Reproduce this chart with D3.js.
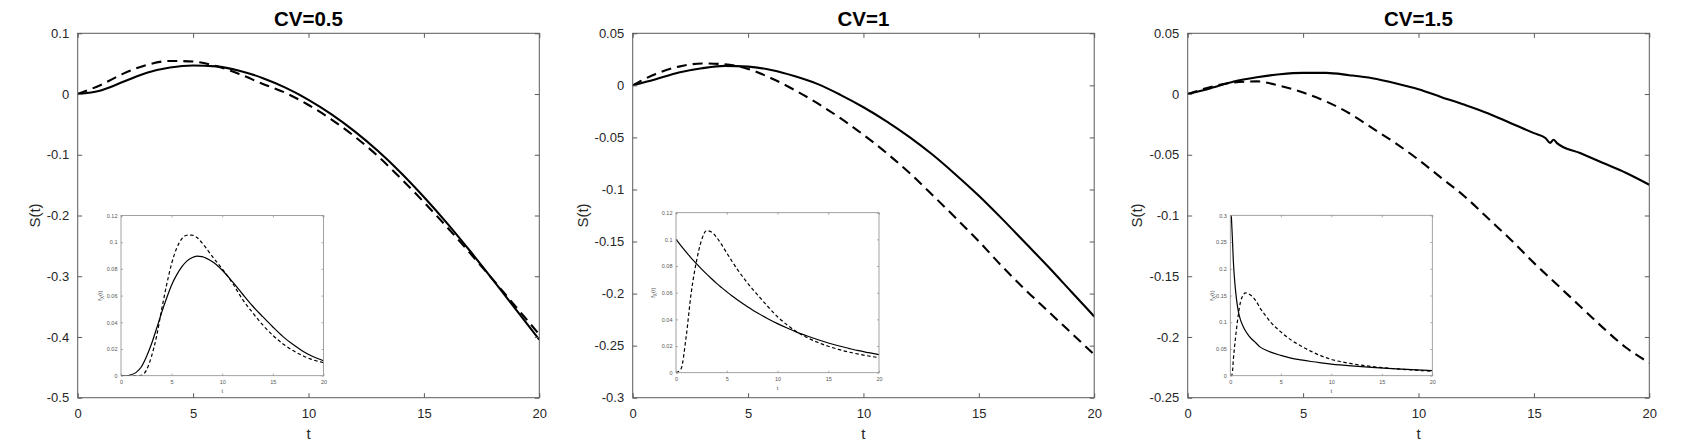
<!DOCTYPE html>
<html>
<head>
<meta charset="utf-8">
<script src="https://cdn.jsdelivr.net/npm/d3@7"></script>
<style>
  body { margin: 0; background: #fff; }
  svg { display: block; font-family: "Liberation Sans", Arial, Helvetica, sans-serif; }
</style>
</head>
<body>
<svg id="chart" width="1707" height="448"></svg>
<script>
// ---- data ----
var panelTitles = ["CV=0.5", "CV=1", "CV=1.5"];

var mainT = [0, 1, 2, 3, 4, 5, 6, 7, 8, 9, 10, 11, 12, 13, 14, 15, 16, 17, 18, 19, 20];
// the CV=1.5 solid curve has a small notch just before t=16
var mainT15 = [0, 1, 2, 3, 4, 5, 6, 7, 8, 9, 10, 11, 12, 13, 14, 15, 15.5, 15.7, 15.85, 16, 17, 18, 19, 20];
var mainXTicks = [0, 5, 10, 15, 20];

// S(t), solid = full model, dashed = approximation
var sSolid05 = [0, 0.006, 0.0205, 0.035, 0.0436, 0.047, 0.0455, 0.0385, 0.0265, 0.0105, -0.0095, -0.0335, -0.0615, -0.0935, -0.1295, -0.1695, -0.2125, -0.2585, -0.3065, -0.3555, -0.4045];
var sDashed05 = [0, 0.015, 0.034, 0.048, 0.0545, 0.0535, 0.046, 0.033, 0.017, 0.002, -0.018, -0.042, -0.07, -0.102, -0.139, -0.178, -0.219, -0.262, -0.306, -0.351, -0.396];
var sSolid1 = [0, 0.0059, 0.0123, 0.0164, 0.0187, 0.018, 0.0148, 0.009, 0.0014, -0.0091, -0.021, -0.0345, -0.0497, -0.0667, -0.0858, -0.106, -0.128, -0.151, -0.174, -0.198, -0.222];
var sDashed1 = [0, 0.011, 0.018, 0.021, 0.0203, 0.0158, 0.0069, -0.0043, -0.0171, -0.0315, -0.0475, -0.065, -0.0842, -0.1055, -0.1274, -0.1498, -0.1737, -0.196, -0.2169, -0.2377, -0.2585];
var sSolid15 = [0, 0.0048, 0.0103, 0.0138, 0.0163, 0.0174, 0.0174, 0.0155, 0.013, 0.0089, 0.004, -0.0026, -0.0089, -0.0158, -0.024, -0.0322, -0.0362, -0.0402, -0.0376, -0.0404, -0.0486, -0.0568, -0.065, -0.0747];
var sDashed15 = [0, 0.0058, 0.0095, 0.0104, 0.0067, 0.0012, -0.0062, -0.0158, -0.0281, -0.0404, -0.0541, -0.0692, -0.0843, -0.1021, -0.1199, -0.139, -0.1568, -0.1747, -0.1925, -0.2089, -0.2212];

var mainYTicks05 = [0.1, 0, -0.1, -0.2, -0.3, -0.4, -0.5];
var mainYTicks1 = [0.05, 0, -0.05, -0.1, -0.15, -0.2, -0.25, -0.3];
var mainYTicks15 = [0.05, 0, -0.05, -0.1, -0.15, -0.2, -0.25];

// inset densities f_X(t)
var insetT = [0, 0.5, 1, 1.5, 2, 2.5, 3, 3.5, 4, 4.5, 5, 5.5, 6, 6.5, 7, 7.5, 8, 9, 10, 11, 12, 13, 14, 15, 16, 17, 18, 19, 20];
var fSolid05 = [0, 0, 0.0007, 0.0025, 0.0065, 0.014, 0.0235, 0.035, 0.047, 0.058, 0.068, 0.0755, 0.0815, 0.0858, 0.0884, 0.0896, 0.0892, 0.0855, 0.079, 0.0705, 0.0612, 0.0522, 0.0442, 0.0365, 0.0293, 0.0233, 0.0182, 0.0142, 0.0112];
var fDashed05 = [0, 0, 0, 0, 0.0003, 0.004, 0.0142, 0.029, 0.049, 0.0678, 0.084, 0.0955, 0.1025, 0.1052, 0.1053, 0.1035, 0.0995, 0.0895, 0.08, 0.0695, 0.0572, 0.0472, 0.038, 0.0302, 0.0238, 0.0188, 0.0148, 0.0118, 0.0098];
var fSolid1 = [0.1, 0.0951, 0.0905, 0.086, 0.0819, 0.0779, 0.0741, 0.0705, 0.067, 0.0638, 0.0607, 0.0577, 0.0549, 0.0522, 0.0497, 0.0472, 0.0449, 0.0407, 0.0368, 0.0333, 0.0301, 0.0273, 0.0247, 0.0223, 0.0202, 0.0183, 0.0165, 0.015, 0.0135];
var fDashed1 = [0, 0.003, 0.027, 0.06, 0.083, 0.099, 0.1065, 0.1055, 0.1015, 0.096, 0.0898, 0.0838, 0.078, 0.0727, 0.0677, 0.063, 0.0587, 0.05, 0.042, 0.0355, 0.0302, 0.026, 0.0226, 0.0198, 0.0175, 0.0155, 0.0139, 0.0125, 0.0113];

var insetT15 = [0, 0.1, 0.2, 0.3, 0.4, 0.6, 0.8, 1, 1.25, 1.5, 1.75, 2, 2.5, 3, 3.5, 4, 5, 6, 7, 8, 9, 10, 12, 14, 16, 18, 20];
var fSolid15 = [null, 0.3, 0.26, 0.215, 0.185, 0.145, 0.12, 0.105, 0.093, 0.084, 0.077, 0.071, 0.062, 0.053, 0.048, 0.044, 0.038, 0.033, 0.0295, 0.0265, 0.024, 0.0218, 0.0183, 0.0155, 0.0132, 0.0112, 0.0095];
var fDashed15 = [0, 0, 0.005, 0.03, 0.05, 0.085, 0.115, 0.137, 0.15, 0.155, 0.154, 0.151, 0.141, 0.125, 0.112, 0.1, 0.082, 0.067, 0.0555, 0.0455, 0.037, 0.0305, 0.0225, 0.0172, 0.0135, 0.0107, 0.0083];

var insetXTicks = [0, 5, 10, 15, 20];
var insetYTicks05 = [0, 0.02, 0.04, 0.06, 0.08, 0.1, 0.12];
var insetYTicks1 = [0, 0.02, 0.04, 0.06, 0.08, 0.1, 0.12];
var insetYTicks15 = [0, 0.05, 0.1, 0.15, 0.2, 0.25, 0.3];

// ---- layout ----
var layout = [
  { main: [77.7, 539.3, 33.3, 397.7], ylab: 34.5, inset: [121, 323.5, 215.5, 375.7], ilab: 100 },
  { main: [632.7, 1094.2, 33.3, 397.7], ylab: 583, inset: [676, 879, 212.7, 372.7], ilab: 653 },
  { main: [1187.7, 1649.3, 33.3, 397.7], ylab: 1137, inset: [1230.3, 1432.3, 215.3, 375.7], ilab: 1212 }
];

var panels = [
  { title: panelTitles[0], s: [sSolid05, sDashed05], st: [mainT, mainT], yt: mainYTicks05, f: [fSolid05, fDashed05], ft: insetT, fyt: insetYTicks05 },
  { title: panelTitles[1], s: [sSolid1, sDashed1], st: [mainT, mainT], yt: mainYTicks1, f: [fSolid1, fDashed1], ft: insetT, fyt: insetYTicks1 },
  { title: panelTitles[2], s: [sSolid15, sDashed15], st: [mainT15, mainT], yt: mainYTicks15, f: [fSolid15, fDashed15], ft: insetT15, fyt: insetYTicks15 }
];

var svg = d3.select("#chart");

function fmt(v) { return String(+v.toFixed(3)); }

// box with inward ticks on all four sides, MATLAB style
function drawBox(g, xs, ys, xTicks, yTicks, o) {
  var x0 = xs.range()[0], x1 = xs.range()[1];
  var yb = ys.range()[0], yt = ys.range()[1];

  function clean(sel) {
    sel.select(".domain").remove();
    sel.selectAll(".tick line").attr("stroke", o.stroke).attr("stroke-width", o.tw);
    sel.selectAll(".tick text").attr("fill", o.text).attr("font-size", o.fs + "px");
  }

  g.append("g").attr("transform", "translate(0," + yb + ")")
    .call(d3.axisBottom(xs).tickValues(xTicks).tickSize(-o.tick).tickSizeOuter(0).tickPadding(o.padX).tickFormat(fmt))
    .call(clean);
  g.append("g").attr("transform", "translate(0," + yt + ")")
    .call(d3.axisTop(xs).tickValues(xTicks).tickSize(-o.tick).tickSizeOuter(0).tickFormat(""))
    .call(clean);
  g.append("g").attr("transform", "translate(" + x0 + ",0)")
    .call(d3.axisLeft(ys).tickValues(yTicks).tickSize(-o.tick).tickSizeOuter(0).tickPadding(o.padY).tickFormat(fmt))
    .call(clean);
  g.append("g").attr("transform", "translate(" + x1 + ",0)")
    .call(d3.axisRight(ys).tickValues(yTicks).tickSize(-o.tick).tickSizeOuter(0).tickFormat(""))
    .call(clean);

  g.append("rect")
    .attr("x", x0).attr("y", yt)
    .attr("width", x1 - x0).attr("height", yb - yt)
    .attr("fill", "none").attr("stroke", o.stroke).attr("stroke-width", o.bw);
}

panels.forEach(function (p, i) {
  var L = layout[i];
  var g = svg.append("g");

  var x = d3.scaleLinear().domain([0, 20]).range([L.main[0], L.main[1]]);
  var y = d3.scaleLinear().domain(d3.extent(p.yt)).range([L.main[3], L.main[2]]);

  g.append("rect")
    .attr("x", L.main[0]).attr("y", L.main[2])
    .attr("width", L.main[1] - L.main[0]).attr("height", L.main[3] - L.main[2])
    .attr("fill", "#fff");

  var clipId = "clip" + i;
  g.append("clipPath").attr("id", clipId).append("rect")
    .attr("x", L.main[0]).attr("y", L.main[2])
    .attr("width", L.main[1] - L.main[0]).attr("height", L.main[3] - L.main[2]);

  function mainLine(ts) {
    return d3.line()
      .x(function (d, k) { return x(ts[k]); })
      .y(function (d) { return y(d); })
      .curve(d3.curveMonotoneX);
  }

  g.append("path").datum(p.s[0])
    .attr("clip-path", "url(#" + clipId + ")")
    .attr("d", mainLine(p.st[0])).attr("fill", "none")
    .attr("stroke", "#000").attr("stroke-width", 2.1);
  g.append("path").datum(p.s[1])
    .attr("clip-path", "url(#" + clipId + ")")
    .attr("d", mainLine(p.st[1])).attr("fill", "none")
    .attr("stroke", "#000").attr("stroke-width", 2.1)
    .attr("stroke-dasharray", "10,6");

  drawBox(g, x, y, mainXTicks, p.yt,
    { tick: 4.5, padX: 11, padY: 8.5, fs: 13, stroke: "#5a5a5a", text: "#262626", tw: 1, bw: 1 });

  // title and labels
  g.append("text")
    .attr("x", (L.main[0] + L.main[1]) / 2).attr("y", 26)
    .attr("text-anchor", "middle")
    .attr("font-size", "20.5px").attr("font-weight", "bold")
    .attr("fill", "#000")
    .text(p.title);
  g.append("text")
    .attr("x", (L.main[0] + L.main[1]) / 2).attr("y", 439)
    .attr("text-anchor", "middle")
    .attr("font-size", "15px").attr("fill", "#262626")
    .text("t");
  g.append("text")
    .attr("transform", "translate(" + L.ylab + "," + ((L.main[2] + L.main[3]) / 2) + ") rotate(-90)")
    .attr("text-anchor", "middle").attr("dy", "0.35em")
    .attr("font-size", "15px").attr("fill", "#262626")
    .text("S(t)");

  // ---- inset ----
  var gi = svg.append("g");
  var xi = d3.scaleLinear().domain([0, 20]).range([L.inset[0], L.inset[1]]);
  var yi = d3.scaleLinear().domain(d3.extent(p.fyt)).range([L.inset[3], L.inset[2]]);

  gi.append("rect")
    .attr("x", L.inset[0]).attr("y", L.inset[2])
    .attr("width", L.inset[1] - L.inset[0]).attr("height", L.inset[3] - L.inset[2])
    .attr("fill", "#fff");

  var iclip = "iclip" + i;
  gi.append("clipPath").attr("id", iclip).append("rect")
    .attr("x", L.inset[0]).attr("y", L.inset[2])
    .attr("width", L.inset[1] - L.inset[0]).attr("height", L.inset[3] - L.inset[2]);

  var iline = d3.line()
    .defined(function (d) { return d != null; })
    .x(function (d, k) { return xi(p.ft[k]); })
    .y(function (d) { return yi(d); })
    .curve(d3.curveMonotoneX);

  gi.append("path").datum(p.f[0])
    .attr("clip-path", "url(#" + iclip + ")")
    .attr("d", iline).attr("fill", "none")
    .attr("stroke", "#000").attr("stroke-width", 1.2);
  gi.append("path").datum(p.f[1])
    .attr("clip-path", "url(#" + iclip + ")")
    .attr("d", iline).attr("fill", "none")
    .attr("stroke", "#000").attr("stroke-width", 1.2)
    .attr("stroke-dasharray", "3.5,2.5");

  drawBox(gi, xi, yi, insetXTicks, p.fyt,
    { tick: 2, padX: 4, padY: 3.5, fs: 5.5, stroke: "#8a8a8a", text: "#555", tw: 0.7, bw: 0.8 });

  gi.append("text")
    .attr("x", (L.inset[0] + L.inset[1]) / 2).attr("y", L.inset[3] + 17)
    .attr("text-anchor", "middle")
    .attr("font-size", "6px").attr("fill", "#555")
    .text("t");
  var fl = gi.append("text")
    .attr("transform", "translate(" + L.ilab + "," + ((L.inset[2] + L.inset[3]) / 2) + ") rotate(-90)")
    .attr("text-anchor", "middle").attr("dy", "0.35em")
    .attr("font-size", "6px").attr("fill", "#555");
  fl.append("tspan").text("f");
  fl.append("tspan").attr("font-size", "4.5px").attr("dy", "1.5").text("X");
  fl.append("tspan").attr("dy", "-1.5").text("(t)");
});
</script>
</body>
</html>
